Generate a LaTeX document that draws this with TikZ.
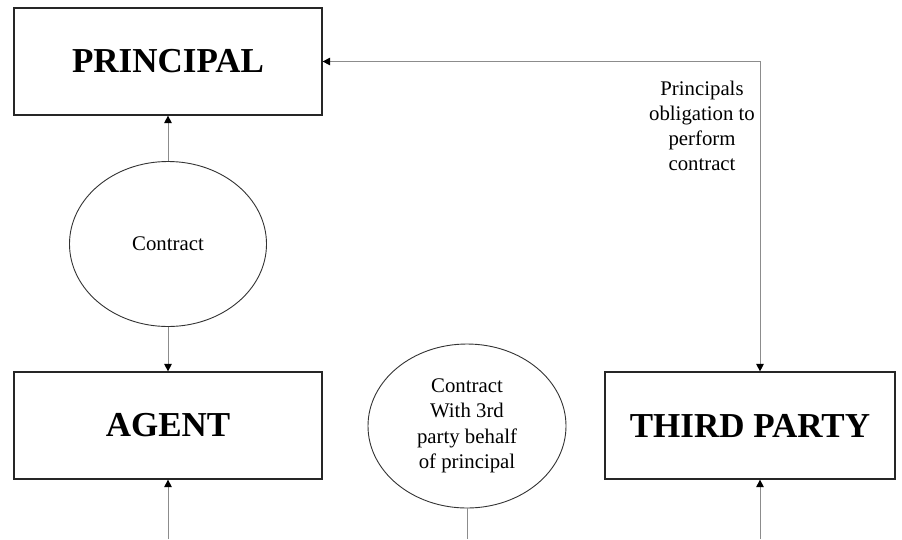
\documentclass[tikz,border=0pt]{standalone}
\usepackage{fontspec}
\setmainfont{Liberation Serif}
\usetikzlibrary{shapes,arrows.meta}
\tikzset{>={Triangle[length=7.5pt,width=7.5pt,color=black]}}

\begin{document}
\begin{tikzpicture}[x=1pt,y=-1pt,
    party/.style={draw=black!85,line width=1.2pt,minimum width=308pt,minimum height=107pt,
        inner sep=0pt,font=\fontsize{35}{40}\selectfont\bfseries},
    deal/.style={draw=black!80,line width=0.9pt,ellipse,minimum width=197pt,minimum height=165pt,
        inner sep=0pt,align=center,font=\fontsize{20.8}{25.5}\selectfont},
    link/.style={draw=black!45,line width=0.9pt}]
    \useasboundingbox (0,0) rectangle (902,539);
    % parties
    \node[party] (principal) at (168,61.5) {PRINCIPAL};
    \node[party] (agent) at (168,425.5) {AGENT};
    \node[party,minimum width=290pt] (third) at (750,425.5) {THIRD PARTY};
    % contracts
    \node[deal] (contract) at (168,244) {Contract};
    \node[deal,minimum width=198pt,minimum height=164pt] (deal) at (467,426)
        {Contract\\With 3rd\\party behalf\\of principal};
    \node[align=center,font=\fontsize{20.8}{25}\selectfont] (duty) at (702,125.5)
        {Principals\\obligation to\\perform\\contract};
    % loose ends at the bottom
    \coordinate (agentfoot) at (168,539);
    \coordinate (dealfoot) at (467,539);
    \coordinate (thirdfoot) at (760,539);
    \draw[link,->] (contract.north) -- (principal.south);
    \draw[link,->] (contract.south) -- (agent.north);
    \draw[link,->] (agentfoot) -- (agent.south);
    \draw[link] (deal.south) -- (dealfoot);
    \draw[link,->] (thirdfoot) -- (thirdfoot |- third.south);
    \draw[link,<->] (principal.east) -| (thirdfoot |- third.north);
\end{tikzpicture}
\end{document}
